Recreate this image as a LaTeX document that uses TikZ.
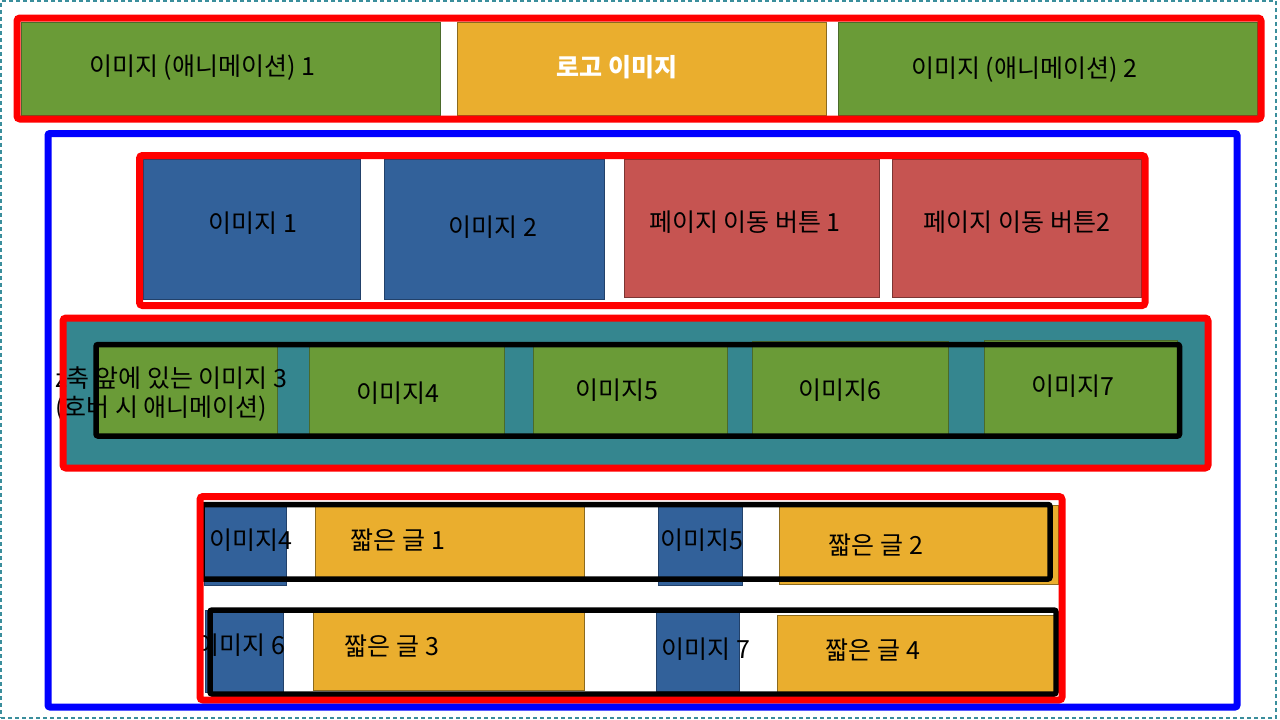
\documentclass[tikz,border=0pt]{standalone}
\usepackage{fontspec}
\setmainfont{Noto Sans CJK KR}
\definecolor{cgreen}{HTML}{6A9B37}
\definecolor{cgreenD}{HTML}{4B6A2A}
\definecolor{cgold}{HTML}{EAAE2E}
\definecolor{cgoldD}{HTML}{8C6A1E}
\definecolor{cblue}{HTML}{32619A}
\definecolor{cblueD}{HTML}{22416A}
\definecolor{cred}{HTML}{C65451}
\definecolor{credD}{HTML}{7C3533}
\definecolor{cteal}{HTML}{35868F}
\definecolor{cdash}{HTML}{3A8E9C}
\begin{document}
\begin{tikzpicture}[x=1pt,y=-1pt,
  blk/.style={inner sep=0pt, outer sep=0pt, anchor=north west},
  gbox/.style={blk, fill=cgreen, draw=cgreenD, line width=0.9pt},
  obox/.style={blk, fill=cgold, draw=cgoldD, line width=0.9pt},
  bbox/.style={blk, fill=cblue, draw=cblueD, line width=0.9pt},
  rbox/.style={blk, fill=cred, draw=credD, line width=0.9pt},
  redframe/.style={blk, draw=red, line width=7pt, rounded corners=3pt},
  blueframe/.style={blk, draw=blue, line width=7pt, rounded corners=2pt},
  blackframe/.style={blk, draw=black, line width=5.5pt, rounded corners=2pt},
  lbl/.style={inner sep=0pt, outer sep=0pt, font=\fontsize{25}{29}\selectfont, text=black}
]
\useasboundingbox (0,0) rectangle (1280,720);
\node[blk, draw=cdash, line width=2pt, dash pattern=on 4pt off 3pt, minimum width=1275pt, minimum height=717pt] (outer) at (1,1) {};

% ---- top row ----
\node[gbox, minimum width=419pt, minimum height=93pt] (g1) at (21,22) {};
\node[obox, minimum width=369pt, minimum height=93pt] (logo) at (457,22) {};
\node[gbox, minimum width=419pt, minimum height=93pt] (g2) at (838,22) {};
\node[lbl] (tg1) at (202,68) {이미지 (애니메이션) 1};
\node[lbl, text=white, font=\fontsize{25}{29}\selectfont\bfseries] (tlogo) at (617,67) {로고 이미지};
\node[lbl] (tg2) at (1024,70) {이미지 (애니메이션) 2};

% ---- second row ----
\node[bbox, minimum width=217pt, minimum height=140pt] (b1) at (143,159) {};
\node[bbox, minimum width=220pt, minimum height=140pt] (b2) at (384,159) {};
\node[rbox, minimum width=255pt, minimum height=138pt] (p1) at (624,159) {};
\node[rbox, minimum width=249pt, minimum height=138pt] (p2) at (892,159) {};
\node[lbl] (tb1) at (253,223) {이미지 1};
\node[lbl] (tb2) at (493,227) {이미지 2};
\node[lbl] (tp1) at (745,222) {페이지 이동 버튼 1};
\node[lbl] (tp2) at (1017,222) {페이지 이동 버튼2};

% ---- third row ----
\node[blk, fill=cteal, minimum width=1145pt, minimum height=150pt] (tealbg) at (63,318) {};
\node[gbox, minimum width=180pt, minimum height=90pt] (i3) at (97,346) {};
\node[gbox, minimum width=195pt, minimum height=91pt] (i4) at (309,346) {};
\node[gbox, minimum width=194pt, minimum height=91pt] (i5) at (533,346) {};
\node[gbox, minimum width=196pt, minimum height=95pt] (i6) at (752,341) {};
\node[gbox, minimum width=193pt, minimum height=96pt] (i7) at (984,340) {};
\node[lbl, anchor=west, align=left] (ti3) at (55,394.5) {z축 앞에 있는 이미지 3\\(호버 시 애니메이션)};
\node[lbl] (ti4) at (398,393) {이미지4};
\node[lbl] (ti5) at (617,390) {이미지5};
\node[lbl] (ti6) at (840,390) {이미지6};
\node[lbl] (ti7) at (1073,386) {이미지7};

% ---- bottom rows ----
\node[bbox, minimum width=82pt, minimum height=82pt] (s4) at (204,503) {};
\node[obox, minimum width=269pt, minimum height=75pt] (k1) at (315,502) {};
\node[bbox, minimum width=84pt, minimum height=83pt] (s5) at (658,502) {};
\node[obox, minimum width=279pt, minimum height=79pt] (k2) at (779,505) {};
\node[bbox, minimum width=78pt, minimum height=82pt] (s6) at (205,610) {};
\node[obox, minimum width=271pt, minimum height=78pt] (k3) at (313,612) {};
\node[bbox, minimum width=83pt, minimum height=79pt] (s7) at (656,612) {};
\node[obox, minimum width=278pt, minimum height=77pt] (k4) at (777,615) {};
\node[lbl] (ts4) at (251,540) {이미지4};
\node[lbl] (tk1) at (398,540) {짧은 글 1};
\node[lbl] (ts5) at (702,540) {이미지5};
\node[lbl] (tk2) at (876,545) {짧은 글 2};
\node[lbl] (ts6) at (241,645) {이미지 6};
\node[lbl] (tk3) at (392,646) {짧은 글 3};
\node[lbl] (ts7) at (706,649) {이미지 7};
\node[lbl] (tk4) at (873,650) {짧은 글 4};

% ---- frames ----
\node[blackframe, minimum width=1083.5pt, minimum height=91.5pt] (bk3) at (96,344.5) {};
\node[blackframe, minimum width=848pt, minimum height=74.5pt] (bkA) at (202,504.5) {};
\node[blackframe, minimum width=846pt, minimum height=84pt] (bkB) at (210,610) {};
\node[redframe, minimum width=1244pt, minimum height=101pt] (rtop) at (17,18) {};
\node[redframe, minimum width=1005.5pt, minimum height=150pt] (r2) at (139.5,155.5) {};
\node[redframe, minimum width=1145pt, minimum height=150pt] (r3) at (63,318) {};
\node[redframe, minimum width=862pt, minimum height=203.5pt] (r4) at (200,496.5) {};
\node[blueframe, minimum width=1189pt, minimum height=573.5pt] (bl) at (48,133.5) {};
\end{tikzpicture}
\end{document}
